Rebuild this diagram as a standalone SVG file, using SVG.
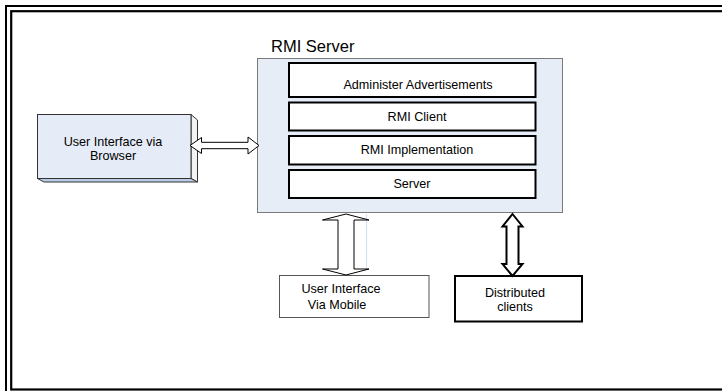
<svg xmlns="http://www.w3.org/2000/svg" width="722" height="391" viewBox="0 0 722 391">
  <style>
    text { font-family: "Liberation Sans", Arial, sans-serif; font-size: 12.6px; fill: #000; }
    .mid { text-anchor: middle; }
    .layer { fill: #fff; stroke: #000; stroke-width: 2; }
    .arrow { fill: #fff; stroke: #000; stroke-width: 1; stroke-linejoin: miter; }
  </style>
  <rect width="722" height="391" fill="#fff"/>

  <!-- double page frame -->
  <g id="frame" fill="none" stroke="#000">
    <rect x="6" y="6" width="800" height="500" stroke-width="2"/>
    <rect x="11.2" y="11.2" width="800" height="378.3" stroke-width="2.2"/>
  </g>

  <!-- RMI server container with its layers -->
  <g id="rmi-server">
    <text x="271" y="52" style="font-size:16.5px">RMI Server</text>
    <rect x="257.5" y="58.5" width="305" height="154" fill="#E7EDF7" stroke="#7a7a7a" stroke-width="1"/>
  </g>
  <g id="administer-ads">
    <rect class="layer" x="289" y="63" width="246.5" height="34"/>
    <text class="mid" x="418" y="88.5">Administer Advertisements</text>
  </g>
  <g id="rmi-client">
    <rect class="layer" x="289" y="102.5" width="246.5" height="28"/>
    <text class="mid" x="417" y="120.5">RMI Client</text>
  </g>
  <g id="rmi-implementation">
    <rect class="layer" x="289" y="136" width="246.5" height="28.5"/>
    <text class="mid" x="417" y="153.5">RMI Implementation</text>
  </g>
  <g id="server">
    <rect class="layer" x="289" y="170" width="246.5" height="28"/>
    <text class="mid" x="412" y="187.5">Server</text>
  </g>

  <!-- 3D box: browser client -->
  <g id="browser-ui">
    <polygon points="191,114.5 197.5,120 197.5,182 191,178.5" fill="#F3F3F3" stroke="#333" stroke-width="1"/>
    <polygon points="37.5,178.5 191,178.5 197.5,182 44,182" fill="#B9CBE5" stroke="#333" stroke-width="1"/>
    <rect x="37.5" y="114.5" width="153.5" height="64" fill="#E6ECF7" stroke="#333" stroke-width="1"/>
    <text class="mid" x="113" y="146">User Interface via</text>
    <text class="mid" x="113" y="159.5">Browser</text>
  </g>

  <!-- mobile client -->
  <g id="mobile-ui">
    <rect x="279.5" y="275.5" width="149.5" height="42" fill="#fff" stroke="#555" stroke-width="1"/>
    <text class="mid" x="341" y="292.5">User Interface</text>
    <text class="mid" x="337" y="309">Via Mobile</text>
  </g>

  <!-- distributed clients -->
  <g id="distributed-clients">
    <rect x="455" y="276" width="127" height="45.5" fill="#fff" stroke="#000" stroke-width="2"/>
    <text class="mid" x="515" y="297">Distributed</text>
    <text class="mid" x="515" y="311">clients</text>
  </g>

  <!-- connectors: block double arrows -->
  <g id="connectors">
    <polygon class="arrow" points="190,145.5 201.5,137.5 201.5,142.3 248,142.3 248,137 259,145.5 248,154 248,148.7 201.5,148.7 201.5,153.5"/>
    <line x1="366.5" y1="214" x2="366.5" y2="270" stroke="#D6E1F2" stroke-width="1.2"/>
    <polygon class="arrow" points="346,214 369,220 354,220 354,269 369,269 346,275 322.5,269 338,269 338,220 322.5,220"/>
    <polygon class="arrow" style="stroke-width:2" points="512.5,214 522.5,226.5 518.5,226.5 518.5,264 522.5,264 512.5,276 502.5,264 506.5,264 506.5,226.5 502.5,226.5"/>
  </g>
</svg>
